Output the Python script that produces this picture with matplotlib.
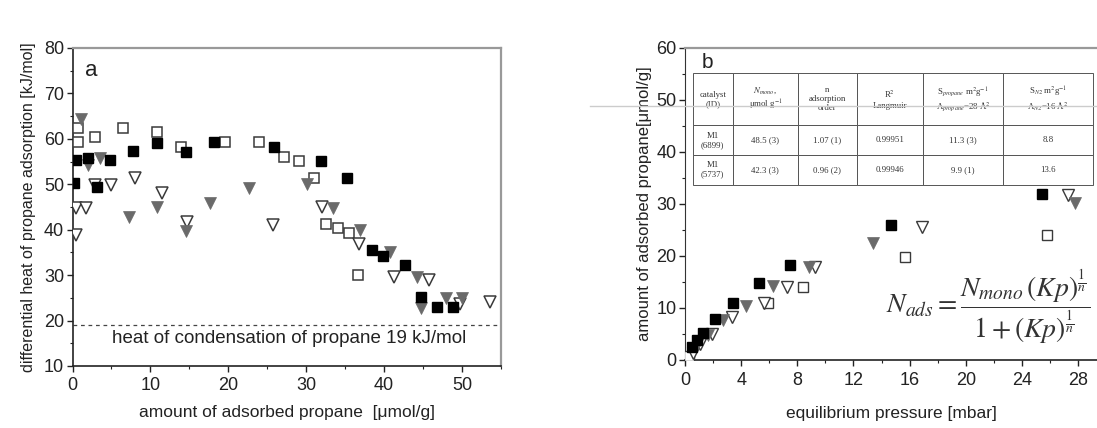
import matplotlib
matplotlib.use("Agg")
import matplotlib.pyplot as plt
from matplotlib.lines import Line2D
from matplotlib.ticker import MultipleLocator

plt.rcParams['font.family'] = ['Liberation Sans', 'DejaVu Sans']
plt.rcParams['mathtext.fontset'] = 'stix'

# ---------------- Panel a data (differential heat) ----------------
a_blacksq_x = [0.2, 0.5, 2.0, 3.1, 4.8, 7.8, 10.9, 14.6, 18.2, 25.8, 31.9, 35.2, 38.4, 39.9, 42.7, 44.7, 46.8, 48.8]
a_blacksq_y = [50.3, 55.3, 55.7, 49.5, 55.3, 57.3, 59.1, 57.2, 59.2, 58.2, 55.2, 51.3, 35.5, 34.2, 32.2, 25.1, 22.9, 22.9]

a_opensq_x = [0.7, 0.7, 2.9, 6.5, 10.9, 13.9, 19.6, 23.9, 27.1, 29.1, 31.0, 32.6, 34.1, 35.5, 36.7]
a_opensq_y = [62.3, 59.4, 60.3, 62.3, 61.4, 58.3, 59.2, 59.4, 56.1, 55.2, 51.4, 41.3, 40.3, 39.3, 30.0]

a_graytri_x = [1.05, 2.0, 3.5, 7.2, 10.8, 14.6, 17.7, 22.7, 30.1, 33.5, 36.9, 40.8, 44.2, 44.7, 47.9, 50.0]
a_graytri_y = [64.3, 54.2, 55.7, 42.8, 45.0, 39.8, 45.9, 49.1, 50.0, 44.7, 39.9, 35.1, 29.6, 22.7, 24.9, 24.9]

a_opentri_x = [0.4, 1.7, 0.5, 2.9, 4.9, 8.0, 11.5, 14.7, 25.7, 32.0, 36.8, 41.3, 45.7, 49.8, 53.6]
a_opentri_y = [44.7, 44.7, 38.8, 49.8, 49.8, 51.3, 48.0, 41.7, 41.0, 45.0, 36.9, 29.6, 28.9, 23.6, 24.1]

condensation_heat = 19
a_xticks = [0, 10, 20, 30, 40, 50]
a_yticks = [10, 20, 30, 40, 50, 60, 70, 80]

# ---------------- Panel b data (isotherms) ----------------
b_blacksq_x = [0.5, 0.85, 1.28, 2.14, 3.42, 5.27, 7.48, 14.7, 25.4]
b_blacksq_y = [2.5, 3.8, 5.2, 7.9, 11.0, 14.8, 18.3, 26.0, 31.9]

b_graytri_x = [0.9, 1.64, 2.7, 4.35, 6.27, 8.8, 13.4, 27.8]
b_graytri_y = [3.2, 4.8, 7.7, 10.4, 14.2, 17.8, 22.5, 30.2]

b_opentri_x = [0.57, 1.1, 1.9, 3.35, 5.6, 7.26, 9.26, 16.9, 27.3]
b_opentri_y = [1.3, 3.0, 5.0, 8.3, 11.0, 14.0, 17.8, 25.6, 31.7]

b_opensq_x = [0.3, 5.9, 8.4, 15.7, 25.8]
b_opensq_y = [0.8, 11.0, 14.0, 19.8, 24.0]

b_xticks = [0, 4, 8, 12, 16, 20, 24, 28]
b_yticks = [0, 10, 20, 30, 40, 50, 60]

table_header = ["catalyst\n(ID)", "$N_{mono}$,\nμmol g$^{-1}$", "n\nadsorption\norder",
                "R$^2$\nLangmuir", "S$_{propane}$ m$^2$g$^{-1}$\nA$_{propane}$=28 Å$^2$",
                "S$_{N2}$ m$^2$g$^{-1}$\nA$_{N2}$=16 Å$^2$"]
table_rows = [["M1\n(6899)", "48.5 (3)", "1.07 (1)", "0.99951", "11.3 (3)", "8.8"],
              ["M1\n(5737)", "42.3 (3)", "0.96 (2)", "0.99946", "9.9 (1)", "13.6"]]

GRAY = '#6a6a6a'
EDGE = '#3a3a3a'
TXT = '#222222'

fig = plt.figure(figsize=(10.97, 4.28), dpi=100)

# ================= Panel a =================
axa = fig.add_axes([0.0661, 0.1449, 0.3906, 0.7430])
axa.plot(a_opensq_x, a_opensq_y, 's', ms=7.5, mfc='white', mec=EDGE, mew=1.1, ls='none', zorder=3)
axa.plot(a_opentri_x, a_opentri_y, 'v', ms=9, mfc='white', mec=EDGE, mew=1.1, ls='none', zorder=3)
axa.plot(a_graytri_x, a_graytri_y, 'v', ms=9, mfc=GRAY, mec=GRAY, mew=0.5, ls='none', zorder=4)
axa.plot(a_blacksq_x, a_blacksq_y, 's', ms=7.5, mfc='black', mec='black', ls='none', zorder=5)
axa.axhline(condensation_heat, color='#444444', lw=0.9, ls=(0, (3, 3)), zorder=1)
axa.text(0.505, 0.085, "heat of condensation of propane 19 kJ/mol", transform=axa.transAxes,
         ha='center', va='center', fontsize=13.5, color=TXT)
axa.text(0.03, 0.93, "a", transform=axa.transAxes, ha='left', va='center', fontsize=16, color=TXT)
axa.set_xlim(0, 55)
axa.set_ylim(10, 80)
axa.set_xticks(a_xticks)
axa.set_yticks(a_yticks)
axa.xaxis.set_minor_locator(MultipleLocator(5))
axa.yaxis.set_minor_locator(MultipleLocator(5))
axa.tick_params(which='major', direction='out', length=4, width=1, labelsize=13, colors=TXT, pad=2)
axa.tick_params(axis='x', which='major', pad=4)
axa.tick_params(which='minor', direction='out', length=2.5, width=0.8, colors=TXT)
for s in ['left', 'bottom']:
    axa.spines[s].set_color('#222222')
    axa.spines[s].set_linewidth(1.2)
for s in ['top', 'right']:
    axa.spines[s].set_color('#999999')
    axa.spines[s].set_linewidth(1.6)
axa.set_xlabel("amount of adsorbed propane  [μmol/g]", fontsize=12.5, color=TXT, labelpad=8)
axa.set_ylabel("differential heat of propane adsorption [kJ/mol]", fontsize=11.5, color=TXT, labelpad=6)

# ================= Panel b =================
axb = fig.add_axes([0.6244, 0.1589, 0.3756, 0.7290])
axb.plot(b_opensq_x, b_opensq_y, 's', ms=6.5, mfc='white', mec=EDGE, mew=1.0, ls='none', zorder=3)
axb.plot(b_opentri_x, b_opentri_y, 'v', ms=8, mfc='white', mec=EDGE, mew=1.0, ls='none', zorder=3)
axb.plot(b_graytri_x, b_graytri_y, 'v', ms=8, mfc=GRAY, mec=GRAY, mew=0.5, ls='none', zorder=4)
axb.plot(b_blacksq_x, b_blacksq_y, 's', ms=6.5, mfc='black', mec='black', ls='none', zorder=5)
axb.set_xlim(0, 29.34)
axb.set_ylim(0, 60)
axb.set_xticks(b_xticks)
axb.set_yticks(b_yticks)
axb.xaxis.set_minor_locator(MultipleLocator(2))
axb.yaxis.set_minor_locator(MultipleLocator(5))
axb.tick_params(which='major', direction='out', length=4, width=1, labelsize=13, colors=TXT, pad=2)
axb.tick_params(axis='x', which='major', pad=5)
axb.tick_params(which='minor', direction='out', length=2.5, width=0.8, colors=TXT)
axb.spines['right'].set_visible(False)
axb.spines['top'].set_color('#999999')
axb.spines['top'].set_linewidth(1.6)
axb.spines['left'].set_color('#333333')
axb.spines['left'].set_linestyle((0, (1.5, 1)))
axb.spines['bottom'].set_color('#222222')
axb.spines['bottom'].set_linewidth(1.2)
axb.set_xlabel("equilibrium pressure [mbar]", fontsize=12.5, color=TXT, labelpad=12)
axb.set_ylabel("amount of adsorbed propane[μmol/g]", fontsize=12, color=TXT, labelpad=3)
axb.text(0.041, 0.952, "b", transform=axb.transAxes, ha='left', va='center', fontsize=15, color=TXT)

tbl = axb.table(cellText=table_rows, colLabels=table_header, cellLoc='center',
                colWidths=[40, 65, 59, 66, 80, 90],
                bbox=[0.019, 0.561, 0.971, 0.359])
tbl.auto_set_font_size(False)
for (r, c), cell in tbl.get_celld().items():
    cell.set_edgecolor('#555555')
    cell.set_linewidth(0.7)
    cell.set_facecolor('white')
    cell.get_text().set_fontsize(6.3)
    cell.get_text().set_color('#333333')
    cell.get_text().set_fontfamily('Liberation Serif')
    if r == 0:
        cell.set_height(53)
    else:
        cell.set_height(30)

axb.text(0.735, 0.17,
         r"$N_{ads} = \dfrac{N_{mono}\,(Kp)^{\frac{1}{n}}}{1+(Kp)^{\frac{1}{n}}}$",
         transform=axb.transAxes, ha='center', va='center', fontsize=20, color='#333333')

# faint scan line across panel b
fig.add_artist(Line2D([590 / 1097, 1.0], [1 - 106 / 428, 1 - 106 / 428],
                      transform=fig.transFigure, color='#cccccc', lw=1))

fig.savefig("out.png", dpi=100)
